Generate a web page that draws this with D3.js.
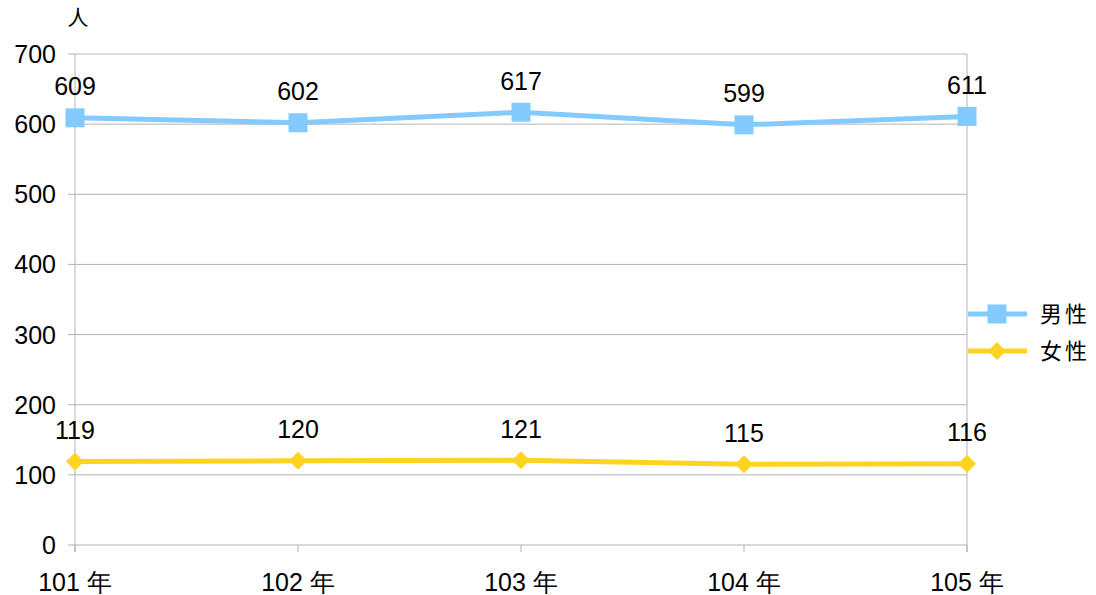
<!DOCTYPE html>
<html>
<head>
<meta charset="utf-8">
<script src="https://cdn.jsdelivr.net/npm/d3@7"></script>
<style>
  html, body { margin: 0; padding: 0; background: #fff; }
  svg { display: block; }
  text { font-family: "Liberation Sans", Arial, sans-serif; fill: #000; }
  .cjk { font-family: "Noto Sans CJK TC", "Noto Sans CJK SC", sans-serif; }
</style>
</head>
<body>
<svg id="chart" width="1096" height="595"></svg>
<script>
// Years and headcounts by sex
const years = ["101 年", "102 年", "103 年", "104 年", "105 年"];
const male = [609, 602, 617, 599, 611];
const female = [119, 120, 121, 115, 116];
const yTicks = [0, 100, 200, 300, 400, 500, 600, 700];
const seriesNames = ["男性", "女性"];
const unitLabel = "人";

(function () {
const svg = d3.select("#chart");
const plotLeft = 75, plotRight = 967, plotTop = 54, plotBottom = 545;

const x = d3.scalePoint().domain(years).range([plotLeft, plotRight]);
const y = d3.scaleLinear().domain([0, 700]).range([plotBottom, plotTop]);

const gridColor = "#b3b3b3";

// horizontal gridlines
svg.append("g").selectAll("line").data(yTicks).join("line")
  .attr("x1", plotLeft - 7).attr("x2", plotRight)
  .attr("y1", d => y(d)).attr("y2", d => y(d))
  .attr("stroke", gridColor).attr("stroke-width", 1);

// vertical frame lines
svg.append("line").attr("x1", plotLeft).attr("x2", plotLeft).attr("y1", plotTop).attr("y2", plotBottom + 7)
  .attr("stroke", gridColor);
svg.append("line").attr("x1", plotRight).attr("x2", plotRight).attr("y1", plotTop).attr("y2", plotBottom + 7)
  .attr("stroke", gridColor);

// x tick marks
svg.append("g").selectAll("line").data(years).join("line")
  .attr("x1", d => x(d)).attr("x2", d => x(d))
  .attr("y1", plotBottom).attr("y2", plotBottom + 7)
  .attr("stroke", gridColor);

// y tick labels
svg.append("g").selectAll("text").data(yTicks).join("text")
  .attr("x", plotLeft - 19).attr("y", d => y(d)).attr("dy", "0.36em")
  .attr("text-anchor", "end").attr("font-size", 25)
  .text(d => d);

// x tick labels
svg.append("g").selectAll("text").data(years).join("text")
  .attr("x", d => x(d)).attr("y", plotBottom + 46)
  .attr("text-anchor", "middle").attr("font-size", 25)
  .text(d => d);

// unit label
svg.append("text").attr("class", "cjk").attr("x", 78).attr("y", 25)
  .attr("text-anchor", "middle").attr("font-size", 21).text(unitLabel);

const series = [
  { name: seriesNames[0], values: male, color: "#83caff", shape: "square" },
  { name: seriesNames[1], values: female, color: "#ffd320", shape: "diamond" }
];

const line = d3.line().x((d, i) => x(years[i])).y(d => y(d));

function drawMarker(g, shape, cx, cy, color) {
  if (shape === "square") {
    g.append("rect").attr("x", cx - 9.5).attr("y", cy - 9.5)
      .attr("width", 19).attr("height", 19).attr("fill", color);
  } else {
    const r = 9;
    g.append("path")
      .attr("d", `M${cx},${cy - r}L${cx + r},${cy}L${cx},${cy + r}L${cx - r},${cy}Z`)
      .attr("fill", color);
  }
}

series.forEach(s => {
  const g = svg.append("g");
  g.append("path").datum(s.values).attr("d", line)
    .attr("fill", "none").attr("stroke", s.color).attr("stroke-width", 5)
    .attr("stroke-linejoin", "round");
  s.values.forEach((v, i) => drawMarker(g, s.shape, x(years[i]), y(v), s.color));
  g.selectAll("text.val").data(s.values).join("text").attr("class", "val")
    .attr("x", (d, i) => x(years[i])).attr("y", d => y(d) - 22.5)
    .attr("text-anchor", "middle").attr("font-size", 25)
    .text(d => d);
});

// legend
const legend = svg.append("g");
series.forEach((s, i) => {
  const ly = 314 + i * 37;
  legend.append("line").attr("x1", 968).attr("x2", 1027).attr("y1", ly).attr("y2", ly)
    .attr("stroke", s.color).attr("stroke-width", 5);
  drawMarker(legend, s.shape, 997, ly, s.color);
  legend.append("text").attr("class", "cjk").attr("x", 1040).attr("y", ly).attr("dy", "0.36em")
    .attr("font-size", 22).attr("letter-spacing", 3).text(s.name);
});
})();
</script>
</body>
</html>
